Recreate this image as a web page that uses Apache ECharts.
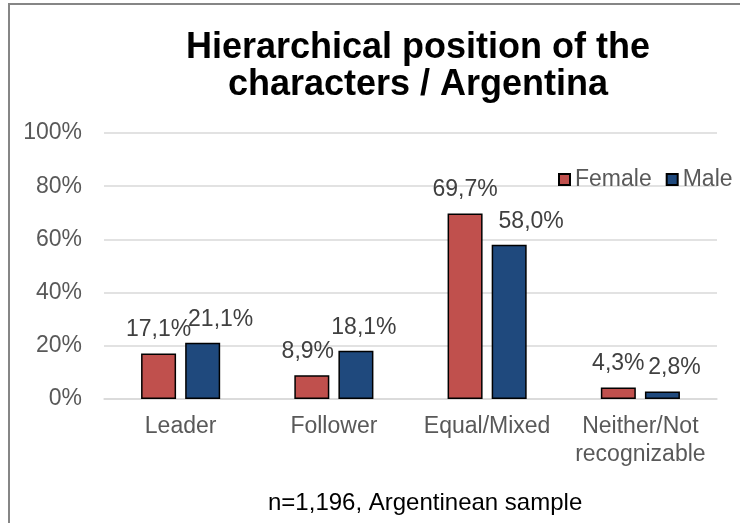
<!DOCTYPE html>
<html lang="en">
<head>
<meta charset="UTF-8">
<script src="https://cdn.jsdelivr.net/npm/echarts@6/dist/echarts.min.js"></script>
<title>Hierarchical position</title>
<style>
html, body { margin: 0; padding: 0; background: #fff; }
#chart { width: 740px; height: 523px; }
</style>
</head>
<body>
<div id="chart"></div>
<script>
// values (percent)
var categories = ['Leader', 'Follower', 'Equal/Mixed', 'Neither/Not\nrecognizable'];
var female = [17.1, 8.9, 69.7, 4.3];
var male = [21.1, 18.1, 58.0, 2.8];
var yTicks = [0, 20, 40, 60, 80, 100];

// small sideways nudges like Excel does to keep labels apart
var femaleShift = [0, -4, 0, 0];
var maleShift = [18, 8, 22, 12];

var font = "'Liberation Sans', Arial, sans-serif";

function pct(v) {
    return v.toFixed(1).replace('.', ',') + '%';
}

function buildData(vals, shifts) {
    return vals.map(function (v, i) {
        return { value: v, label: { offset: [shifts[i], 0] } };
    });
}

var barLabel = {
    show: true,
    position: 'top',
    distance: 12,
    color: '#404040',
    fontSize: 23,
    fontFamily: font,
    formatter: function (p) { return pct(p.value); }
};

var chart = echarts.init(document.getElementById('chart'));
chart.setOption({
    animation: false,
    backgroundColor: '#fff',
    title: {
        text: 'Hierarchical position of the\ncharacters / Argentina',
        left: 413,
        textAlign: 'center',
        top: 25,
        textStyle: {
            fontFamily: font,
            fontWeight: 'bold',
            fontSize: 36,
            lineHeight: 37,
            color: '#000'
        }
    },
    legend: {
        left: 553,
        top: 163,
        icon: 'rect',
        itemWidth: 11,
        itemHeight: 11,
        itemGap: 14,
        textStyle: { fontFamily: font, fontSize: 23, color: '#595959' },
        data: ['Female', 'Male']
    },
    grid: { left: 104, right: 23, top: 133, bottom: 124 },
    xAxis: {
        type: 'category',
        data: categories,
        axisTick: { show: false },
        axisLine: { lineStyle: { color: '#d9d9d9', width: 1.5 } },
        axisLabel: {
            interval: 0,
            margin: 14,
            fontFamily: font,
            fontSize: 23,
            lineHeight: 28,
            color: '#595959'
        }
    },
    yAxis: {
        type: 'value',
        min: yTicks[0],
        max: yTicks[yTicks.length - 1],
        interval: 20,
        axisLine: { show: false },
        axisTick: { show: false },
        splitLine: { lineStyle: { color: '#d9d9d9', width: 1.5 } },
        axisLabel: {
            margin: 22,
            fontFamily: font,
            fontSize: 23,
            color: '#595959',
            formatter: '{value}%'
        }
    },
    series: [
        {
            name: 'Female',
            type: 'bar',
            barWidth: 35,
            barGap: '26%',
            data: buildData(female, femaleShift),
            itemStyle: { color: '#C0504D', borderColor: '#000', borderWidth: 1.5 },
            label: barLabel
        },
        {
            name: 'Male',
            type: 'bar',
            barWidth: 35,
            data: buildData(male, maleShift),
            itemStyle: { color: '#1F497D', borderColor: '#000', borderWidth: 1.5 },
            label: barLabel
        }
    ],
    graphic: [
        {
            type: 'rect',
            silent: true,
            shape: { x: 9, y: 4, width: 900, height: 700 },
            style: { fill: 'none', stroke: '#868686', lineWidth: 2 }
        },
        {
            type: 'text',
            left: 424 - 156,
            top: 491,
            style: {
                text: 'n=1,196, Argentinean sample',
                fontFamily: font,
                fontSize: 24,
                fill: '#000'
            }
        }
    ]
});
</script>
</body>
</html>
